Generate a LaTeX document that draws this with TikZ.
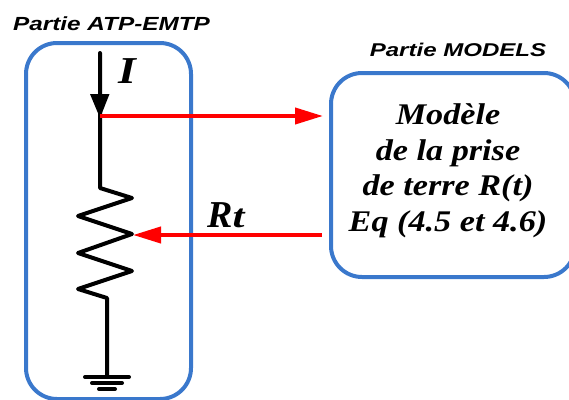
\documentclass[tikz,border=0pt]{standalone}
\usepackage{graphicx}
\usepackage{fontspec}
\setmainfont{Liberation Serif}
\newfontfamily\labelsans{Liberation Sans}
\usetikzlibrary{arrows.meta}
\definecolor{boxblue}{HTML}{3A78CC}
\newcommand{\widen}[2]{\scalebox{#1}[1]{#2}}
\tikzset{
  part/.style={draw=boxblue,line width=4pt,rounded corners=31pt,inner sep=0pt,anchor=north west},
  wire/.style={draw=black,line width=4pt,line cap=round,line join=round},
  sig/.style={draw=red,line width=4pt,-{Triangle[length=28pt,width=16pt,fill=red]}},
  partlabel/.style={font=\labelsans\bfseries\itshape\fontsize{19}{21}\selectfont,anchor=base,inner sep=0pt},
  modeltext/.style={font=\bfseries\itshape\fontsize{30}{32}\selectfont,anchor=base,inner sep=0pt},
  symb/.style={font=\bfseries\itshape\fontsize{38}{40}\selectfont,anchor=base,inner sep=0pt}
}
\begin{document}
\begin{tikzpicture}[x=1pt,y=-1pt]
\useasboundingbox (0,0) rectangle (569,399);
\begin{scope}
\clip (0,0) rectangle (569,399);
\node[part,minimum width=165pt,minimum height=356pt] (atp) at (24,41) {};
\node[part,minimum width=244pt,minimum height=204pt] (mod) at (329,71) {};

\coordinate (top) at (100,53);
\coordinate (junction) at (100,116);
\coordinate (rtop) at (100,188);
\coordinate (z1) at (132,198);
\coordinate (z2) at (78,216);
\coordinate (z3) at (132,234);
\coordinate (z4) at (78,253);
\coordinate (z5) at (132,271);
\coordinate (z6) at (78,289);
\coordinate (rbot) at (107,298);
\coordinate (gnd) at (107,377);
\coordinate (modin) at (323,116);
\coordinate (modout) at (322,235);
\coordinate (rin) at (133,235);

\draw[wire] (top) -- (junction) -- (rtop) -- (z1) -- (z2) -- (z3) -- (z4) -- (z5) -- (z6) -- (rbot) -- (gnd);
\fill[black] (100,118) -- (90,94) -- (109.5,94) -- cycle;
\draw[wire] (85,377) -- (129,377);
\draw[wire] (92,383) -- (122,383);
\draw[wire] (99,389) -- (115,389);

\draw[sig] (junction) -- (modin);
\draw[sig] (modout) -- (rin);
\end{scope}

\node[partlabel] (l1) at (111.5,30) {\widen{1.28}{Partie ATP-EMTP}};
\node[partlabel,font=\labelsans\bfseries\itshape\fontsize{18.5}{21}\selectfont] (l2) at (458,56) {\widen{1.3}{Partie MODELS}};
\node[symb] (i) at (127,83) {\widen{1.2}{I}};
\node[symb] (rt) at (226,227) {R\widen{1.3}{\fontsize{33}{36}\selectfont t}};
\node[modeltext] (t1) at (448,124) {\widen{1.14}{Modèle}};
\node[modeltext] (t2) at (448,160) {\widen{1.14}{de la prise}};
\node[modeltext] (t3) at (448,195) {\widen{1.14}{de terre R(t)}};
\node[modeltext] (t4) at (448,231) {\widen{1.14}{Eq (4.5 et 4.6)}};
\end{tikzpicture}
\end{document}
